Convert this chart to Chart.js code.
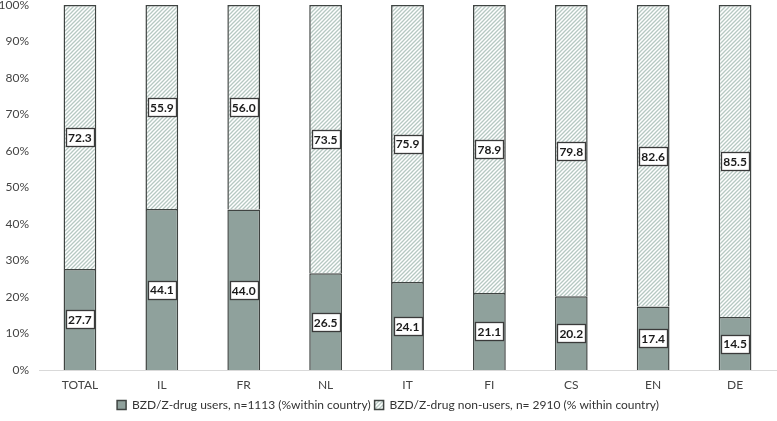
<!DOCTYPE html>
<html>
<head>
<meta charset="utf-8">
<script src="https://cdn.jsdelivr.net/npm/chart.js@4.4.1/dist/chart.umd.min.js"></script>
<style>
  html, body { margin: 0; padding: 0; background: #fff; }
  #wrap { width: 777px; height: 421px; position: relative; }
</style>
</head>
<body>
<div id="wrap"><canvas id="chart"></canvas></div>
<script>
// ===== Data =====
const countries = ['TOTAL', 'IL', 'FR', 'NL', 'IT', 'FI', 'CS', 'EN', 'DE'];
const users = [27.7, 44.1, 44.0, 26.5, 24.1, 21.1, 20.2, 17.4, 14.5];
const nonUsers = [72.3, 55.9, 56.0, 73.5, 75.9, 78.9, 79.8, 82.6, 85.5];
const yTicks = [0, 10, 20, 30, 40, 50, 60, 70, 80, 90, 100];

const usersLabel = 'BZD/Z-drug users, n=1113 (%within country)';
const nonUsersLabel = 'BZD/Z-drug non-users, n= 2910 (% within country)';

const FONT = 'Lato, "Open Sans", sans-serif';

// hatch pattern for the non-users ("/" lines)
function makeHatch() {
    const c = document.createElement('canvas');
    c.width = 4; c.height = 4;
    const g = c.getContext('2d');
    g.fillStyle = '#ffffff';
    g.fillRect(0, 0, 4, 4);
    g.strokeStyle = '#b6c8c2';
    g.lineWidth = 1.3;
    g.beginPath();
    g.moveTo(-1, 5); g.lineTo(5, -1);
    g.moveTo(-1, 1); g.lineTo(1, -1);
    g.moveTo(3, 5); g.lineTo(5, 3);
    g.stroke();
    return g.createPattern(c, 'repeat');
}
const hatch = makeHatch();

// boxed value labels in the middle of each segment
const boxLabels = {
    id: 'boxLabels',
    afterDatasetsDraw(chart) {
        const ctx = chart.ctx;
        ctx.save();
        ctx.font = 'bold 12px ' + FONT;
        ctx.textAlign = 'center';
        ctx.textBaseline = 'middle';
        chart.data.datasets.forEach((ds, di) => {
            const meta = chart.getDatasetMeta(di);
            meta.data.forEach((bar, i) => {
                const txt = ds.data[i].toFixed(1);
                const cx = bar.x;
                const cy = (bar.y + bar.base) / 2;
                const w = 28, h = 18;
                const x0 = Math.round(cx - w / 2) + 0.5, y0 = Math.round(cy - h / 2) + 0.5;
                ctx.fillStyle = '#ffffff';
                ctx.fillRect(x0, y0, w, h);
                ctx.strokeStyle = '#3a3a3a';
                ctx.lineWidth = 1.3;
                ctx.strokeRect(x0, y0, w, h);
                ctx.fillStyle = '#1a1a1a';
                ctx.fillText(txt, cx, cy + 1);
            });
        });
        ctx.restore();
    }
};

new Chart(document.getElementById('chart'), {
    type: 'bar',
    data: {
        labels: countries,
        datasets: [{
            label: usersLabel,
            data: users,
            backgroundColor: '#8fa19c',
            borderColor: '#3f4442',
            borderWidth: 1.5,
            borderSkipped: 'bottom',
            barPercentage: 0.4,
            categoryPercentage: 1
        }, {
            label: nonUsersLabel,
            data: nonUsers,
            backgroundColor: hatch,
            borderColor: '#3f4442',
            borderWidth: 1.5,
            borderSkipped: 'bottom',
            barPercentage: 0.4,
            categoryPercentage: 1
        }]
    },
    options: {
        responsive: true,
        maintainAspectRatio: false,
        animation: false,
        layout: { padding: { top: 5, right: 1, left: 0, bottom: 0 } },
        plugins: {
            legend: {
                position: 'bottom',
                labels: {
                    boxWidth: 9,
                    boxHeight: 9,
                    padding: 4,
                    color: '#333333',
                    font: { family: FONT, size: 12 }
                }
            },
            tooltip: { enabled: false }
        },
        scales: {
            x: {
                stacked: true,
                afterFit: s => { s.height = 25; s.paddingLeft = 0; s.paddingRight = 0; },
                grid: { display: false, drawTicks: false },
                border: { color: '#d9d9d9', width: 1 },
                ticks: { color: '#444444', font: { family: FONT, size: 12 }, padding: 8 }
            },
            y: {
                stacked: true,
                min: 0,
                max: 100,
                afterFit: s => { s.width = 39; s.paddingTop = 0; s.paddingBottom = 0; },
                afterBuildTicks: s => { s.ticks = yTicks.map(v => ({ value: v })); },
                grid: { display: false, drawTicks: false },
                border: { display: false },
                ticks: {
                    color: '#444444',
                    font: { family: FONT, size: 12 },
                    padding: 10,
                    callback: v => v + '%'
                }
            }
        }
    },
    plugins: [boxLabels]
});
</script>
</body>
</html>
